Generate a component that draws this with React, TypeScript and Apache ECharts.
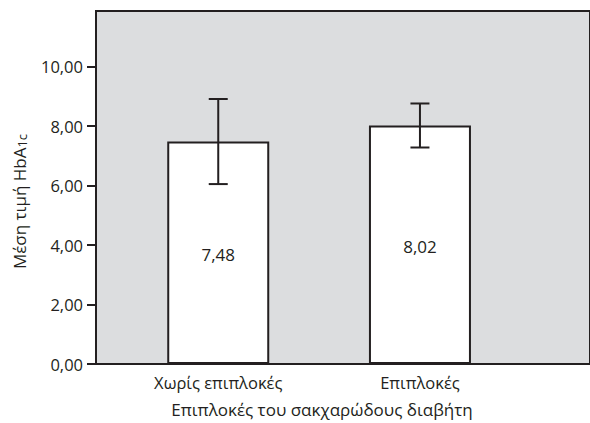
import React, { useEffect, useRef } from "react";
import * as echarts from "echarts";

const categories = ["Χωρίς επιπλοκές", "Επιπλοκές"];
const means = [7.48, 8.02];
const lowerCI = [6.05, 7.28];
const upperCI = [8.91, 8.76];
const yTicks = [0, 2, 4, 6, 8, 10];

const INK = "#231f20";
const FONT = "'Open Sans', 'Noto Sans', sans-serif";
const fmt = (v: number) => v.toFixed(2).replace(".", ",");

export default function App() {
  const ref = useRef<HTMLDivElement>(null);
  useEffect(() => {
    if (!ref.current) return;
    const chart = echarts.init(ref.current, undefined, { renderer: "svg" });
    const barData = categories.map((_, i) => [i + 1, means[i]]);
    const errData = categories.map((_, i) => [i + 1, lowerCI[i], upperCI[i]]);
    chart.setOption({
      animation: false,
      textStyle: { fontFamily: FONT, color: INK },
      grid: {
        left: 96,
        right: -3,
        top: 11,
        bottom: 59,
        show: true,
        backgroundColor: "#dcdddf",
        borderColor: INK,
        borderWidth: 2,
      },
      xAxis: {
        type: "value",
        min: 0.394,
        max: 2.843,
        splitLine: { show: false },
        axisLine: { show: true, onZero: false, lineStyle: { color: INK, width: 2 } },
        axisTick: { show: false },
        axisLabel: {
          customValues: categories.map((_, i) => i + 1),
          formatter: (v: number) => categories[Math.round(v) - 1] ?? "",
          color: INK,
          fontSize: 16.5,
          fontFamily: FONT,
          margin: 10,
        },
        name: "Επιπλοκές του σακχαρώδους διαβήτη",
        nameLocation: "middle",
        nameGap: 37,
        nameTextStyle: { color: INK, fontSize: 17, fontFamily: FONT, padding: [0, 42, 0, 0] },
      },
      yAxis: {
        type: "value",
        min: 0,
        max: 11.87,
        splitLine: { show: false },
        axisLine: { show: true, lineStyle: { color: INK, width: 2 } },
        axisTick: { show: true, customValues: yTicks, length: 9, lineStyle: { color: INK, width: 2 } },
        axisLabel: {
          customValues: yTicks,
          formatter: (v: number) => fmt(v),
          color: INK,
          fontSize: 16.5,
          fontFamily: FONT,
          margin: 13,
        },
        name: "{a|Μέση τιμή HbA}{b|1c}",
        nameLocation: "middle",
        nameGap: 68,
        nameRotate: 90,
        nameTextStyle: {
          color: INK,
          fontFamily: FONT,
          padding: [0, 28, 0, 0],
          rich: {
            a: { fontSize: 17, color: INK, fontFamily: FONT, verticalAlign: "bottom" },
            b: { fontSize: 13, color: INK, fontFamily: FONT, padding: [7, 0, 0, 0], verticalAlign: "bottom" },
          },
        },
      },
      series: [
        {
          type: "bar",
          data: barData,
          barWidth: 102,
          itemStyle: { color: "#ffffff", borderColor: INK, borderWidth: 2 },
          label: {
            show: true,
            position: "inside",
            offset: [0, 2],
            formatter: (p: any) => fmt(p.value[1]),
            color: INK,
            fontSize: 17,
            fontFamily: FONT,
          },
          z: 2,
        },
        {
          type: "custom",
          data: errData,
          encode: { x: 0, y: [1, 2] },
          z: 5,
          renderItem: (params: any, api: any) => {
            const x = api.value(0);
            const lo = api.coord([x, api.value(1)]);
            const hi = api.coord([x, api.value(2)]);
            const hw = 9.5;
            const style = { stroke: INK, lineWidth: 2 };
            return {
              type: "group",
              children: [
                { type: "line", shape: { x1: lo[0], y1: lo[1], x2: hi[0], y2: hi[1] }, style },
                { type: "line", shape: { x1: hi[0] - hw, y1: hi[1], x2: hi[0] + hw, y2: hi[1] }, style },
                { type: "line", shape: { x1: lo[0] - hw, y1: lo[1], x2: lo[0] + hw, y2: lo[1] }, style },
              ],
            };
          },
        },
      ],
    });
    return () => chart.dispose();
  }, []);
  return <div ref={ref} style={{ width: 590, height: 423, position: "absolute", left: 0, top: 0 }} />;
}
